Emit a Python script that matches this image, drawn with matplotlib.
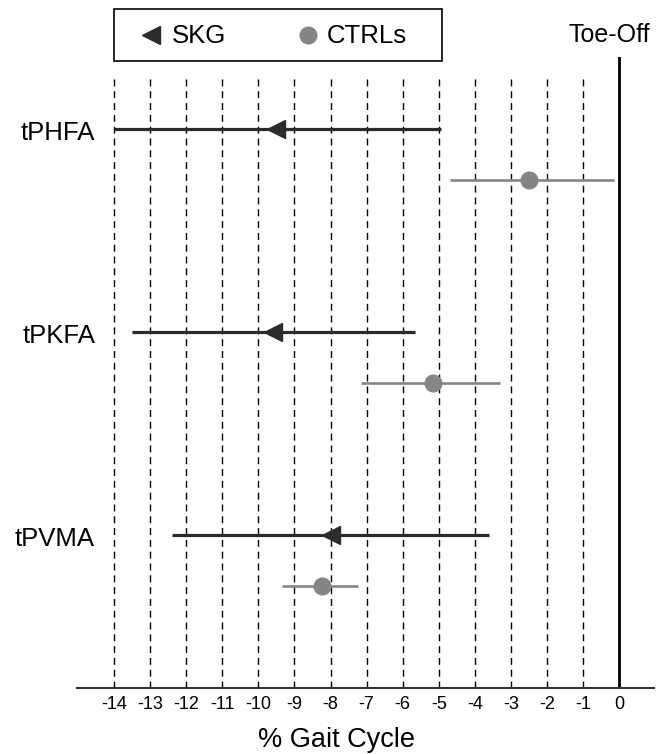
import matplotlib
matplotlib.use("Agg")
import matplotlib.pyplot as plt
import numpy as np
from matplotlib.lines import Line2D
from matplotlib.patches import Rectangle

plt.rcParams["font.family"] = ["Liberation Sans", "DejaVu Sans"]

# data (% gait cycle relative to toe-off)
measures = ["tPHFA", "tPKFA", "tPVMA"]
skg_mean = [-9.5, -9.6, -8.0]
skg_low = [-14.0, -13.5, -12.4]
skg_high = [-4.95, -5.65, -3.6]
ctrl_mean = [-2.5, -5.15, -8.25]
ctrl_low = [-4.7, -7.15, -9.35]
ctrl_high = [-0.15, -3.3, -7.25]
xticks = list(range(-14, 1))

SKG_COLOR = "#2b2b2b"
CTRL_COLOR = "#858585"
W, H = 669, 754


def fx(px):
    return px / W


def fy(py):
    return 1 - py / H


fig = plt.figure(figsize=(W / 100, H / 100), dpi=100)
ax = fig.add_axes([fx(77), fy(688), (654 - 77) / W, (688 - 57) / H])

y = np.arange(len(measures))
offset = 0.25

for xv in xticks[:-1]:
    ax.axvline(xv, ymin=0, ymax=0.967, color="black", lw=1.0,
               linestyle=(0, (5, 3.5)), zorder=1)
ax.axvline(0, color="black", lw=2.0, zorder=1)

ax.hlines(y, skg_low, skg_high, color=SKG_COLOR, lw=2.3, zorder=2)
ax.plot(skg_mean, y, linestyle="none", marker="<", markersize=13,
        color=SKG_COLOR, zorder=3)
ax.hlines(y + offset, ctrl_low, ctrl_high, color=CTRL_COLOR, lw=1.9, zorder=2)
ax.plot(ctrl_mean, y + offset, linestyle="none", marker="o", markersize=12,
        color=CTRL_COLOR, zorder=3)

for yi, name in zip(y, measures):
    ax.text(-14.53, yi + 0.02, name, ha="right", va="center", fontsize=18.5)

ax.set_xlim(-15.03, 0.97)
ax.set_ylim(2.754, -0.355)
ax.set_xticks(xticks)
ax.set_xticklabels([str(v) for v in xticks], fontsize=13)
ax.tick_params(axis="x", length=0, pad=6)
ax.set_yticks([])
for side in ("top", "right", "left"):
    ax.spines[side].set_visible(False)
ax.spines["bottom"].set_color("#333333")
ax.spines["bottom"].set_linewidth(1.5)

fig.text(fx(336), fy(740), "% Gait Cycle", ha="center", va="center", fontsize=19.5)
fig.text(fx(609), fy(35), "Toe-Off", ha="center", va="center", fontsize=18)

# legend box drawn by hand to match the wide padding of the original
fig.add_artist(Rectangle((fx(114), fy(61)), fx(442) - fx(114), fy(9) - fy(61),
                         transform=fig.transFigure, facecolor="white",
                         edgecolor="black", lw=1.2))
fig.add_artist(Line2D([fx(151)], [fy(35)], transform=fig.transFigure,
                      linestyle="none", marker="<", markersize=13, color=SKG_COLOR))
fig.add_artist(Line2D([fx(308)], [fy(35)], transform=fig.transFigure,
                      linestyle="none", marker="o", markersize=12, color=CTRL_COLOR))
fig.text(fx(172), fy(36), "SKG", ha="left", va="center", fontsize=18.5)
fig.text(fx(327), fy(36), "CTRLs", ha="left", va="center", fontsize=18.5)

fig.savefig("out.png", dpi=100)
